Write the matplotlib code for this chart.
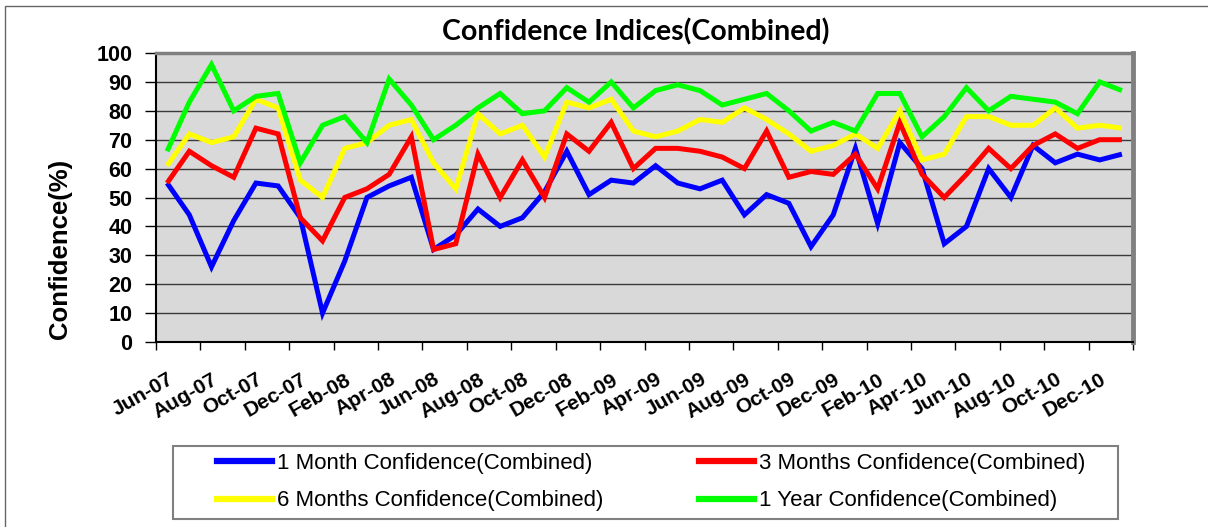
"""
Confidence indices (combined) chart, Jun-07 .. Jan-11, monthly values.

Run:  python plot.py   ->  out.png
"""
import matplotlib

matplotlib.use("Agg")  # headless
import matplotlib.pyplot as plt
from matplotlib.lines import Line2D
from matplotlib.patches import Rectangle

# --------------------------------------------------------------------------- #
# Data (one value per month from Jun-07)
# --------------------------------------------------------------------------- #
tick_labels = [
    "Jun-07", "Aug-07", "Oct-07", "Dec-07", "Feb-08", "Apr-08", "Jun-08",
    "Aug-08", "Oct-08", "Dec-08", "Feb-09", "Apr-09", "Jun-09", "Aug-09",
    "Oct-09", "Dec-09", "Feb-10", "Apr-10", "Jun-10", "Aug-10", "Oct-10",
    "Dec-10",
]

one_month = [55, 44, 26, 42, 55, 54, 43, 10, 28, 50, 54, 57, 32, 37, 46, 40,
             43, 52, 66, 51, 56, 55, 61, 55, 53, 56, 44, 51, 48, 33,
             44, 67, 41, 69, 60, 34, 40, 60, 50, 68, 62, 65, 63, 65]
three_months = [55, 66, 61, 57, 74, 72, 43, 35, 50, 53, 58, 71, 32, 34, 65, 50,
                63, 50, 72, 66, 76, 60, 67, 67, 66, 64, 60, 73, 57, 59,
                58, 65, 53, 76, 58, 50, 58, 67, 60, 68, 72, 67, 70, 70]
six_months = [61, 72, 69, 71, 84, 81, 56, 50, 67, 69, 75, 77, 62, 53, 79, 72,
              75, 64, 83, 81, 84, 73, 71, 73, 77, 76, 81, 77, 72, 66,
              68, 72, 67, 80, 63, 65, 78, 78, 75, 75, 81, 74, 75, 74]
one_year = [66, 83, 96, 80, 85, 86, 62, 75, 78, 69, 91, 82, 70, 75, 81, 86,
            79, 80, 88, 83, 90, 81, 87, 89, 87, 82, 84, 86, 80, 73,
            76, 73, 86, 86, 71, 78, 88, 80, 85, 84, 83, 79, 90, 87]

series_names = [
    "1 Month Confidence(Combined)",
    "3 Months Confidence(Combined)",
    "6 Months Confidence(Combined)",
    "1 Year Confidence(Combined)",
]
series_colors = ["#0000FF", "#FF0000", "#FFFF00", "#00FF00"]

W, H = 1208, 527
BOLD = ["Liberation Sans", "DejaVu Sans"]


def fx(px):
    return px / W


def fy(py):
    return 1 - py / H


def main():
    fig = plt.figure(figsize=(W / 100, H / 100), dpi=100)

    # outer chart border (only left/top visible in the original crop)
    fig.add_artist(Rectangle((fx(5), fy(H + 20)), fx(W + 40), (H + 14) / H,
                             transform=fig.transFigure, fill=False,
                             edgecolor="#666666", lw=1.0))

    ax = fig.add_axes([fx(156), fy(342), fx(1133 - 156), (342 - 53) / H])
    ax.set_facecolor("#D9D9D9")

    n = len(one_month)
    x = list(range(n))
    for vals, name, col in zip([one_month, three_months, six_months, one_year],
                               series_names, series_colors):
        ax.plot(x, vals, color=col, lw=3.6, label=name, solid_joinstyle="miter",
                solid_capstyle="butt", zorder=3)

    ax.set_xlim(-0.5, n - 0.5)
    ax.set_ylim(0, 100)

    # y axis
    ax.set_yticks(range(0, 101, 10))
    ax.yaxis.grid(True, color="#3a3a3a", lw=1.0)
    ax.set_axisbelow(True)
    ax.tick_params(axis="y", direction="out", length=8, width=1, pad=9,
                   labelsize=15.5)
    for lab in ax.get_yticklabels():
        lab.set_fontfamily(BOLD)
        lab.set_fontweight("bold")

    # x axis: ticks on category boundaries, labels on every 2nd category
    ax.set_xticks([i - 0.5 for i in range(0, n + 1, 2)])
    ax.set_xticklabels([])
    ax.tick_params(axis="x", which="major", direction="out", length=6, width=1)
    ax.set_xticks(list(range(0, n, 2)), tick_labels, minor=True)
    ax.tick_params(axis="x", which="minor", length=0, pad=20, labelsize=15)
    for lab in ax.get_xticklabels(minor=True):
        lab.set_fontfamily(BOLD)
        lab.set_fontweight("bold")
        lab.set_rotation(30)
        lab.set_rotation_mode("anchor")
        lab.set_ha("right")
        lab.set_va("top")

    for side in ("left", "bottom"):
        ax.spines[side].set_color("black")
        ax.spines[side].set_linewidth(1.5)
    ax.spines["top"].set_color("#808080")
    ax.spines["top"].set_linewidth(2.5)
    ax.spines["right"].set_color("#808080")
    ax.spines["right"].set_linewidth(3.5)

    # titles
    fig.text(fx(636), fy(32), "Confidence Indices(Combined)",
             family=["Lato", "DejaVu Sans"], weight="bold", fontsize=20.5,
             ha="center", va="center")
    fig.text(fx(60), fy(249), "Confidence(%)", family=BOLD, weight="bold",
             fontsize=18.5, rotation=90, ha="center", va="center")

    # legend box; entries ordered so that ncol=2 gives rows 1M/3M and 6M/1Y
    fig.add_artist(Rectangle((fx(173), fy(519)), fx(1118 - 173), (519 - 446) / H,
                             transform=fig.transFigure, facecolor="white",
                             edgecolor="#808080", lw=1.5, zorder=1))
    handles = [Line2D([], [], color=c, lw=4.5) for c in series_colors]
    order = [0, 2, 1, 3]
    fig.legend([handles[i] for i in order], [series_names[i] for i in order],
               ncol=2, loc="center", bbox_to_anchor=(fx(651), fy(482)),
               frameon=False, prop={"family": "Liberation Sans", "size": 16},
               handlelength=2.5, handletextpad=0.2, columnspacing=4.3,
               labelspacing=0.75, borderpad=0)

    fig.savefig("out.png", dpi=100)


if __name__ == "__main__":
    main()
